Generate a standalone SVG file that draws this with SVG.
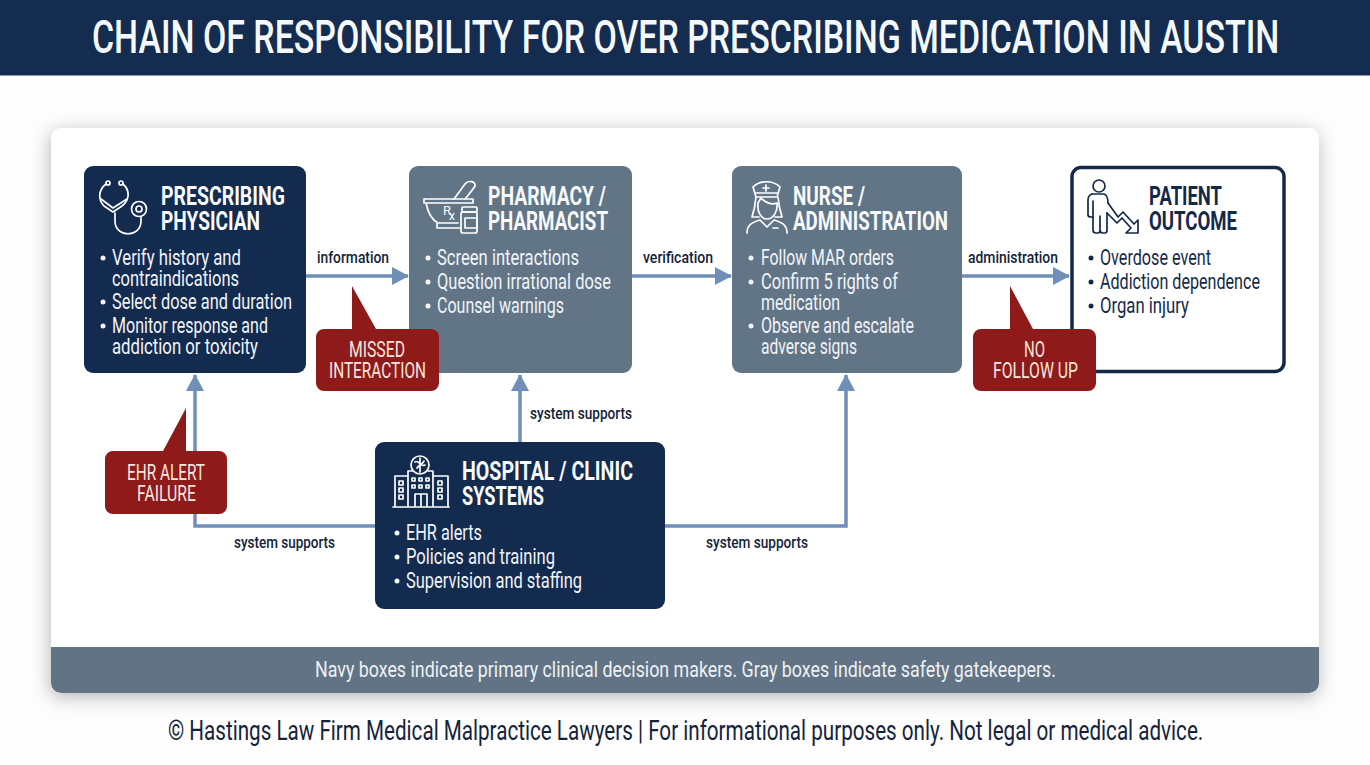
<svg xmlns="http://www.w3.org/2000/svg" width="1370" height="765" viewBox="0 0 1370 765">
<style>
text{font-family:"Liberation Sans Narrow",Roboto,"Liberation Sans",sans-serif}
.t{font-size:25px;font-weight:700;fill:#f8fafc}
.b{font-size:22px;fill:#f2f4f7}
.d{fill:#14294a}
.lab{font-size:17px;font-weight:500;fill:#14233b}
.c{font-size:22px;fill:#f6e6df}
.dot{fill:#f2f4f7}
.ico{fill:none;stroke:#fff;stroke-width:1.7;stroke-linecap:round;stroke-linejoin:round}
.ind{stroke:#14294a}
.navy{fill:#122b4f}
.gray{fill:#627587}
.red{fill:#8f1a1a}
.con{fill:none;stroke:#6f8fb8;stroke-width:3.5}
</style>
<defs>
<filter id="sh" x="-5%" y="-6%" width="110%" height="114%"><feDropShadow dx="-1" dy="4" stdDeviation="9" flood-color="#000" flood-opacity="0.28"/></filter>
<marker id="ah" markerUnits="userSpaceOnUse" markerWidth="17" markerHeight="18" refX="16" refY="9" orient="auto"><path d="M0 0L17 9L0 18Z" fill="#6f8fb8"/></marker>
</defs>
<rect width="1370" height="765" fill="#fdfdfd"/>
<g id="header"><rect width="1370" height="75.500" fill="#142c4f"/>
<text transform="translate(92 53) scale(.68 1)" font-size="46" font-weight="500" fill="#f6f9fb" textLength="1746" lengthAdjust="spacingAndGlyphs">CHAIN OF RESPONSIBILITY FOR OVER PRESCRIBING MEDICATION IN AUSTIN</text></g>
<g id="panel"><rect x="51" y="128" width="1268" height="565" rx="10" fill="#fff" filter="url(#sh)"/>
<path d="M51 647H1319V683a10 10 0 0 1-10 10H61a10 10 0 0 1-10-10Z" fill="#617384"/>
<text x="315" y="677" font-size="22" fill="#eef1f4" textLength="741" lengthAdjust="spacingAndGlyphs">Navy boxes indicate primary clinical decision makers. Gray boxes indicate safety gatekeepers.</text></g>
<g id="connectors">
<path class="con" d="M306 276H408" marker-end="url(#ah)"/>
<path class="con" d="M632 276H731" marker-end="url(#ah)"/>
<path class="con" d="M962 276H1069" marker-end="url(#ah)"/>
<path class="con" d="M375 526H195V375" marker-end="url(#ah)"/>
<path class="con" d="M520 442V375" marker-end="url(#ah)"/>
<path class="con" d="M665 526H846V375" marker-end="url(#ah)"/>
<text class="lab" x="317" y="263" textLength="72" lengthAdjust="spacingAndGlyphs">information</text>
<text class="lab" x="643" y="263" textLength="70" lengthAdjust="spacingAndGlyphs">verification</text>
<text class="lab" x="968" y="263" textLength="90" lengthAdjust="spacingAndGlyphs">administration</text>
<text class="lab" x="530" y="419" textLength="102" lengthAdjust="spacingAndGlyphs">system supports</text>
<text class="lab" x="234" y="548" textLength="101" lengthAdjust="spacingAndGlyphs">system supports</text>
<text class="lab" x="706" y="548" textLength="102" lengthAdjust="spacingAndGlyphs">system supports</text>
</g>
<g id="physician">
<rect class="navy" x="84" y="166" width="222" height="207" rx="9"/>
<g class="ico"><circle cx="108" cy="183" r="2"/><circle cx="121" cy="183" r="2"/><path d="M106 184C98 190 98 200 104 206L113 212L122 206C130 200 130 190 123 184"/><path d="M101 199L113 208L127 199"/><path d="M115 213V221C115 238 141 238 141 221V217"/><circle cx="139" cy="209" r="7.500"/><circle cx="139" cy="209" r="3"/></g>
<text class="t" x="161" y="205" textLength="124" lengthAdjust="spacingAndGlyphs">PRESCRIBING</text>
<text class="t" x="161" y="230" textLength="99" lengthAdjust="spacingAndGlyphs">PHYSICIAN</text>
<circle class="dot" cx="103" cy="258" r="2.500"/><circle class="dot" cx="103" cy="302" r="2.500"/><circle class="dot" cx="103" cy="326" r="2.500"/>
<text class="b" x="112" y="265" textLength="129" lengthAdjust="spacingAndGlyphs">Verify history and</text>
<text class="b" x="112" y="286" textLength="127" lengthAdjust="spacingAndGlyphs">contraindications</text>
<text class="b" x="112" y="309" textLength="180" lengthAdjust="spacingAndGlyphs">Select dose and duration</text>
<text class="b" x="112" y="333" textLength="156" lengthAdjust="spacingAndGlyphs">Monitor response and</text>
<text class="b" x="112" y="354" textLength="146" lengthAdjust="spacingAndGlyphs">addiction or toxicity</text>
</g>
<g id="pharmacy">
<rect class="gray" x="409" y="166" width="223" height="207" rx="9"/>
<g class="ico"><path d="M424 199H473V203H424ZM426 203C428 213 432 220 438 223H458M437 223V228H461"/><path d="M454 199L465 184C468 180 476 181 475 186C474 188 470 193 465 199"/><rect x="462" y="207" width="15" height="5" rx="1"/><rect x="461" y="212" width="16" height="21" rx="2"/><rect x="465" y="218" width="12" height="10"/></g>
<text x="443" y="215" font-size="13" fill="#fff">R</text><text x="449" y="220" font-size="12" fill="#fff">x</text>
<text class="t" x="488" y="205" textLength="118" lengthAdjust="spacingAndGlyphs">PHARMACY /</text>
<text class="t" x="488" y="230" textLength="120" lengthAdjust="spacingAndGlyphs">PHARMACIST</text>
<circle class="dot" cx="428" cy="258" r="2.500"/><circle class="dot" cx="428" cy="282" r="2.500"/><circle class="dot" cx="428" cy="306" r="2.500"/>
<text class="b" x="437" y="265" textLength="142" lengthAdjust="spacingAndGlyphs">Screen interactions</text>
<text class="b" x="437" y="289" textLength="174" lengthAdjust="spacingAndGlyphs">Question irrational dose</text>
<text class="b" x="437" y="313" textLength="127" lengthAdjust="spacingAndGlyphs">Counsel warnings</text>
</g>
<g id="nurse">
<rect class="gray" x="732" y="166" width="230" height="207" rx="9"/>
<g class="ico" stroke-width="1.400"><path d="M753 187C760 180 773 180 780 187L777 197H756Z"/><path d="M756 193H777M766 185V191M763 188H769"/><path d="M758 203C757 212 761 219 767 219C773 219 778 212 777 203C772 205 765 203 761 198Z"/><path d="M756 197C755 208 753 214 752 217L759 217M778 197C779 208 781 214 782 217L775 217"/><path d="M747 233C747 226 750 223 760 220L767 227L774 220C784 223 787 226 787 233"/><path d="M773 228H778"/></g>
<text class="t" x="793" y="205" textLength="72" lengthAdjust="spacingAndGlyphs">NURSE /</text>
<text class="t" x="793" y="230" textLength="155" lengthAdjust="spacingAndGlyphs">ADMINISTRATION</text>
<circle class="dot" cx="751" cy="258" r="2.500"/><circle class="dot" cx="751" cy="282" r="2.500"/><circle class="dot" cx="751" cy="326" r="2.500"/>
<text class="b" x="761" y="265" textLength="133" lengthAdjust="spacingAndGlyphs">Follow MAR orders</text>
<text class="b" x="761" y="289" textLength="137" lengthAdjust="spacingAndGlyphs">Confirm 5 rights of</text>
<text class="b" x="761" y="310" textLength="79" lengthAdjust="spacingAndGlyphs">medication</text>
<text class="b" x="761" y="333" textLength="153" lengthAdjust="spacingAndGlyphs">Observe and escalate</text>
<text class="b" x="761" y="354" textLength="96" lengthAdjust="spacingAndGlyphs">adverse signs</text>
</g>
<g id="patient">
<rect x="1072" y="167.500" width="212" height="204" rx="9" fill="#fff" stroke="#14294a" stroke-width="3.500"/>
<g class="ico ind"><circle cx="1099" cy="186" r="6"/><path d="M1092 194C1089 195 1088 197 1088 200V215Q1088 217 1091 217H1093V230Q1093 233 1096 233H1098Q1100 233 1100 230V216V230Q1100 233 1103 233H1105Q1107 233 1107 230V213"/><path d="M1092 194H1104C1107 195 1108 198 1108 203M1093 201V217"/><path d="M1108 203L1118 217L1123 212L1134 224L1138 220V233H1126L1131 228L1122 218L1117 223L1107 213"/></g>
<text class="t d" x="1149" y="205" textLength="73" lengthAdjust="spacingAndGlyphs">PATIENT</text>
<text class="t d" x="1149" y="230" textLength="88" lengthAdjust="spacingAndGlyphs">OUTCOME</text>
<circle class="d" cx="1091" cy="258" r="2.500"/><circle class="d" cx="1091" cy="282" r="2.500"/><circle class="d" cx="1091" cy="306" r="2.500"/>
<text class="b d" x="1100" y="265" textLength="111" lengthAdjust="spacingAndGlyphs">Overdose event</text>
<text class="b d" x="1100" y="289" textLength="160" lengthAdjust="spacingAndGlyphs">Addiction dependence</text>
<text class="b d" x="1100" y="313" textLength="89" lengthAdjust="spacingAndGlyphs">Organ injury</text>
</g>
<g id="hospital">
<rect class="navy" x="375" y="442" width="290" height="167" rx="9"/>
<g class="ico" stroke-width="1.300"><circle cx="420" cy="465" r="9"/><path d="M415 462C418 459 422 468 425 465M417 468C419 465 423 464 424 461M420 458V472"/><path d="M408 506V471H412M428 471H433V506M408 476H395V506M433 476H448V506M393 507H449M415 506V494H427V506M421 494V506"/><path d="M412 478h3v3h-3zM419 478h3v3h-3zM426 478h3v3h-3zM412 485h3v3h-3zM419 485h3v3h-3zM426 485h3v3h-3zM399 481h4v4h-4zM399 488h4v4h-4zM399 495h4v4h-4zM438 481h4v4h-4zM438 488h4v4h-4zM438 495h4v4h-4z"/></g>
<text class="t" x="462" y="480" textLength="171" lengthAdjust="spacingAndGlyphs">HOSPITAL / CLINIC</text>
<text class="t" x="462" y="505" textLength="82" lengthAdjust="spacingAndGlyphs">SYSTEMS</text>
<circle class="dot" cx="397" cy="533" r="2.500"/><circle class="dot" cx="397" cy="557" r="2.500"/><circle class="dot" cx="397" cy="581" r="2.500"/>
<text class="b" x="406" y="540" textLength="76" lengthAdjust="spacingAndGlyphs">EHR alerts</text>
<text class="b" x="406" y="564" textLength="149" lengthAdjust="spacingAndGlyphs">Policies and training</text>
<text class="b" x="406" y="588" textLength="176" lengthAdjust="spacingAndGlyphs">Supervision and staffing</text>
</g>
<g id="callout-interaction">
<path class="red" d="M352 286L376 329H431a8 8 0 0 1 8 8V383a8 8 0 0 1-8 8H324a8 8 0 0 1-8-8V337a8 8 0 0 1 8-8H352Z"/>
<text class="c" x="349" y="357" textLength="56" lengthAdjust="spacingAndGlyphs">MISSED</text>
<text class="c" x="329" y="378" textLength="97" lengthAdjust="spacingAndGlyphs">INTERACTION</text>
</g>
<g id="callout-followup">
<path class="red" d="M1010 286L1033 329H1088a8 8 0 0 1 8 8V383a8 8 0 0 1-8 8H981a8 8 0 0 1-8-8V337a8 8 0 0 1 8-8H1010Z"/>
<text class="c" x="1024" y="357" textLength="21" lengthAdjust="spacingAndGlyphs">NO</text>
<text class="c" x="993" y="378" textLength="85" lengthAdjust="spacingAndGlyphs">FOLLOW UP</text>
</g>
<g id="callout-ehr">
<path class="red" d="M186 408V451H219a8 8 0 0 1 8 8V506a8 8 0 0 1-8 8H113a8 8 0 0 1-8-8V459a8 8 0 0 1 8-8H163Z"/>
<text class="c" x="127" y="480" textLength="78" lengthAdjust="spacingAndGlyphs">EHR ALERT</text>
<text class="c" x="137" y="501" textLength="59" lengthAdjust="spacingAndGlyphs">FAILURE</text>
</g>
<text id="footer" transform="translate(168 740) scale(.7 1)" font-size="28" fill="#14233b" textLength="1479" lengthAdjust="spacingAndGlyphs">© Hastings Law Firm Medical Malpractice Lawyers | For informational purposes only. Not legal or medical advice.</text>
</svg>
